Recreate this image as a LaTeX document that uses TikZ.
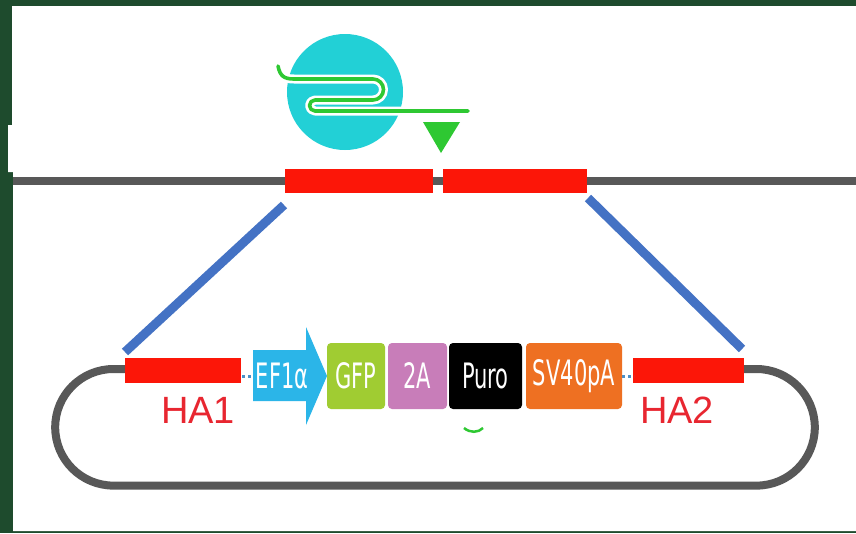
\documentclass[tikz,border=0pt]{standalone}
\usepackage{fontspec}
\setmainfont{Liberation Sans}
\newfontfamily\condfont[FakeStretch=0.6]{DejaVu Sans}
\usetikzlibrary{calc}

\definecolor{frame}{RGB}{30,75,45}
\definecolor{dnagray}{RGB}{88,88,88}
\definecolor{armred}{RGB}{252,22,8}
\definecolor{labred}{RGB}{232,38,48}
\definecolor{linkblue}{RGB}{68,114,196}
\definecolor{rnpcyan}{RGB}{34,208,214}
\definecolor{rnagreen}{RGB}{46,200,50}
\definecolor{promblue}{RGB}{43,181,232}
\definecolor{gfpgreen}{RGB}{160,204,50}
\definecolor{peptpink}{RGB}{200,125,185}
\definecolor{polyorange}{RGB}{238,112,34}
\definecolor{dotblue}{RGB}{74,144,200}

\tikzset{
  dna/.style={draw=dnagray, line width=8pt},
  arm/.style={fill=armred, draw=none},
  link/.style={draw=linkblue, line width=9pt},
  part/.style={draw=none, rounded corners=4pt, text=white,
    font=\condfont\fontsize{35}{35}\selectfont, inner sep=0pt},
  armlabel/.style={text=labred, font=\fontsize{38}{38}\selectfont, inner sep=0pt},
  joint/.style={draw=dotblue, line width=3pt, dash pattern=on 3pt off 3pt},
}

\begin{document}
\begin{tikzpicture}[x=1pt,y=-1pt]
  % frame and white panel
  \fill[frame] (0,0) rectangle (856,533);
  \fill[white] (12,6) -- (856,6) -- (856,531) -- (13,531) -- (13,172)
     -- (8,172) -- (8,125) -- (12,125) -- cycle;
  \useasboundingbox (0,0) rectangle (856,533);

  % genomic locus
  \coordinate (gl) at (13,181);
  \coordinate (gr) at (856,181);
  \draw[dna] (gl) -- (gr);
  \fill[arm] (285,169) rectangle (433,193);
  \fill[arm] (443,169) rectangle (587,193);

  % Cas9 ribonucleoprotein with guide RNA
  \fill[rnpcyan] (345,92) circle (58);
  \def\guide{(278,66) .. controls (280,76) and (284,79) .. (294,79)
      -- (373,79) arc (-90:90:10.5) -- (315,100) arc (270:90:5.5)
      -- (468,111)}
  \draw[white, line width=9pt, line cap=round, line join=round] \guide;
  \draw[rnagreen, line width=3.6pt, line cap=round, line join=round] \guide;
  \fill[rnagreen] (423,122) -- (460,122) -- (441,153) -- cycle;

  % donor plasmid backbone (y axis points down, so arcs run with flipped angles)
  \draw[dna] (125,369) -- (113.5,369) arc (270:90:58.3) -- (756.5,485.6)
      arc (90:-90:58.3) -- (744,369);

  % homology arms
  \fill[arm] (125,358) rectangle (241,383);
  \fill[arm] (633,358) rectangle (744,383);
  \node[armlabel] (ha1) at (198,410) {HA1};
  \node[armlabel] (ha2) at (677,410) {HA2};

  % expression cassette
  \draw[joint] (242,376) -- (254,376);
  \draw[joint] (622,376) -- (634,376);
  \fill[promblue] (253,350) -- (306,350) -- (306,327) -- (327,376)
      -- (306,425) -- (306,401) -- (253,401) -- cycle;
  \node[text=white, font=\condfont\fontsize{35}{35}\selectfont, inner sep=0pt]
      (ef) at (282,376) {EF1α};
  \node[part, fill=gfpgreen, minimum width=58pt, minimum height=66pt]
      (gfp) at (356,376) {GFP};
  \node[part, fill=peptpink, minimum width=59pt, minimum height=66pt]
      (p2a) at (417.5,376) {2A};
  \node[part, fill=black, minimum width=73pt, minimum height=66pt]
      (puro) at (485.5,376) {Puro};
  \node[part, fill=polyorange, minimum width=96pt, minimum height=66pt]
      (pa) at (574,376) {SV40pA};
  \draw[rnagreen, line width=2.5pt] (464,428) .. controls (470,433) and (478,433) .. (483,428);

  % homology links between locus and donor
  \coordinate (l1) at (284,205);
  \coordinate (l2) at (125,352);
  \coordinate (r1) at (588,198);
  \coordinate (r2) at (742,349);
  \draw[link] (l1) -- (l2);
  \draw[link] (r1) -- (r2);
\end{tikzpicture}
\end{document}
